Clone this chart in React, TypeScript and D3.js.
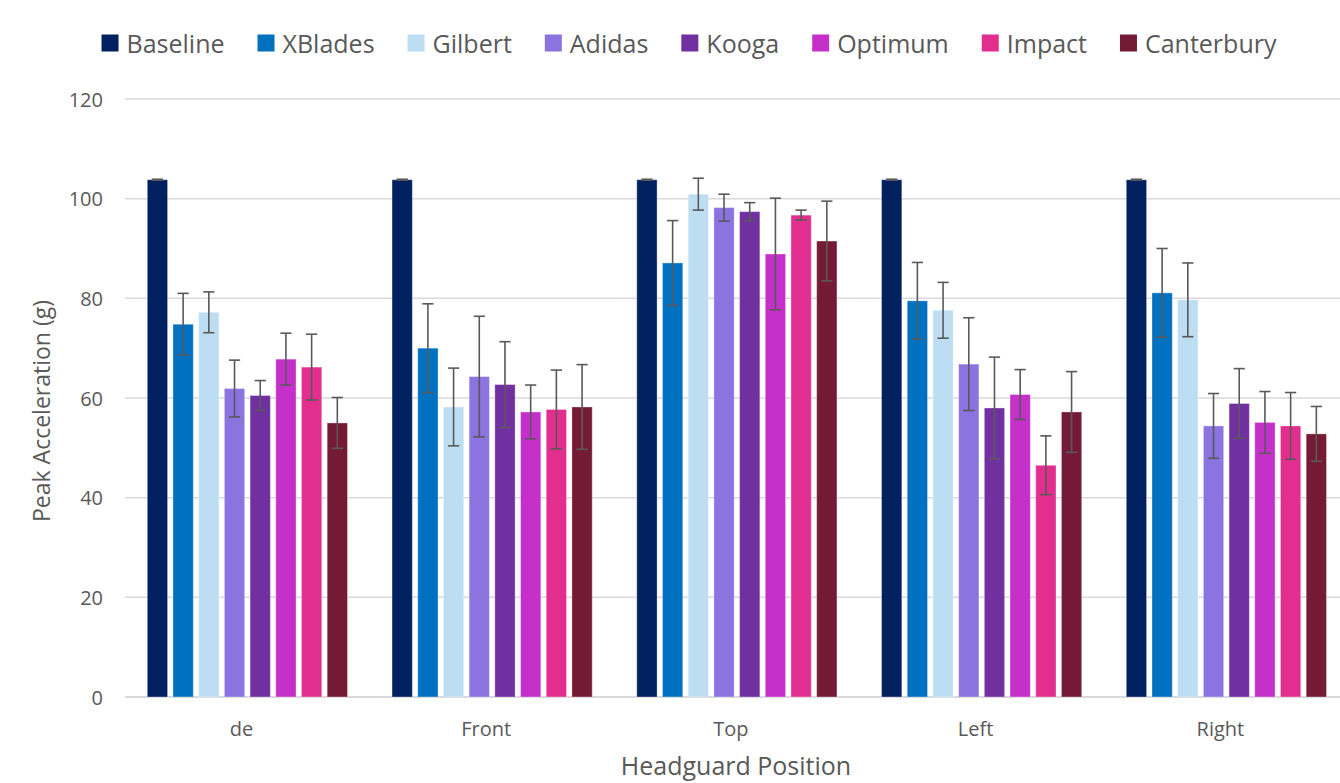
import React, { useMemo } from "react";
import * as d3 from "d3";

const categories = ["de", "Front", "Top", "Left", "Right"];
const seriesNames = ["Baseline", "XBlades", "Gilbert", "Adidas", "Kooga", "Optimum", "Impact", "Canterbury"];
const seriesColors = ["#002060", "#0070C0", "#BDDEF2", "#8B73E0", "#7030A0", "#C530CA", "#E22E8E", "#741A36"];

// values per series, in category order (de, Front, Top, Left, Right)
const baseline = [103.8, 103.8, 103.8, 103.8, 103.8];
const xblades = [74.8, 70.0, 87.1, 79.5, 81.1];
const gilbert = [77.2, 58.2, 100.9, 77.6, 79.7];
const adidas = [61.9, 64.3, 98.2, 66.8, 54.4];
const kooga = [60.5, 62.7, 97.4, 58.0, 58.9];
const optimum = [67.8, 57.2, 88.9, 60.7, 55.1];
const impact = [66.2, 57.7, 96.7, 46.5, 54.4];
const canterbury = [55.0, 58.2, 91.5, 57.2, 52.8];

// error (± half-range) per series
const baselineErr = [0.1, 0.1, 0.1, 0.1, 0.1];
const xbladesErr = [6.2, 8.9, 8.5, 7.7, 8.9];
const gilbertErr = [4.1, 7.8, 3.2, 5.6, 7.4];
const adidasErr = [5.7, 12.1, 2.7, 9.3, 6.5];
const koogaErr = [3.0, 8.6, 1.8, 10.2, 7.0];
const optimumErr = [5.2, 5.4, 11.2, 5.0, 6.2];
const impactErr = [6.6, 7.9, 1.0, 5.9, 6.7];
const canterburyErr = [5.1, 8.5, 8.0, 8.1, 5.5];

const yTicks = [0, 20, 40, 60, 80, 100, 120];

const seriesValues = [baseline, xblades, gilbert, adidas, kooga, optimum, impact, canterbury];
const seriesErrors = [baselineErr, xbladesErr, gilbertErr, adidasErr, koogaErr, optimumErr, impactErr, canterburyErr];

const W = 1340;
const H = 783;
const FONT = "'Open Sans', 'Noto Sans', sans-serif";
const TEXT = "#595959";
const GRID = "#D9D9D9";

export default function App() {
  const plotLeft = 125;
  const plotRight = 1348.75;
  const plotTop = 99;
  const plotBottom = 697;

  const x0 = d3.scaleBand<string>().domain(categories).range([plotLeft, plotRight]).padding(0);
  const x1 = d3
    .scaleBand<string>()
    .domain(seriesNames)
    .range([0, x0.bandwidth()])
    .paddingInner(0.21)
    .paddingOuter(0.867);
  const y = d3.scaleLinear().domain([0, 120]).range([plotBottom, plotTop]);

  const legendFontSize = 25;
  const legend = useMemo(() => {
    const canvas = document.createElement("canvas");
    const ctx = canvas.getContext("2d")!;
    ctx.font = `${legendFontSize}px 'Open Sans'`;
    const sq = 17;
    const gapSqText = 8;
    const gapItem = 33;
    const widths = seriesNames.map((n) => ctx.measureText(n).width);
    const itemWidths = widths.map((w) => sq + gapSqText + w);
    const total = d3.sum(itemWidths) + gapItem * (seriesNames.length - 1);
    let cx = 689 - total / 2;
    return seriesNames.map((n, i) => {
      const item = { name: n, x: cx, sq, textX: cx + sq + gapSqText, color: seriesColors[i] };
      cx += itemWidths[i] + gapItem;
      return item;
    });
  }, []);

  const legendY = 43;

  return (
    <svg
      width={W}
      height={H}
      style={{ position: "absolute", left: 0, top: 0, background: "#fff" }}
      fontFamily={FONT}
    >
      {/* gridlines */}
      {yTicks.map((t) => (
        <line
          key={t}
          x1={plotLeft}
          x2={plotRight}
          y1={y(t)}
          y2={y(t)}
          stroke={GRID}
          strokeWidth={t === 0 ? 2 : 1.5}
        />
      ))}
      {/* y tick labels */}
      {yTicks.map((t) => (
        <text
          key={"l" + t}
          x={103}
          y={y(t)}
          textAnchor="end"
          dominantBaseline="central"
          fontSize={20}
          fill={TEXT}
        >
          {t}
        </text>
      ))}
      {/* bars */}
      {categories.map((c, ci) => (
        <g key={c} transform={`translate(${x0(c)},0)`}>
          {seriesNames.map((s, si) => {
            const v = seriesValues[si][ci];
            const e = seriesErrors[si][ci];
            const bx = x1(s)!;
            const bw = x1.bandwidth();
            const cx = bx + bw / 2;
            return (
              <g key={s}>
                <rect
                  x={bx}
                  y={y(v)}
                  width={bw}
                  height={y(0) - y(v)}
                  fill={seriesColors[si]}
                  stroke="#ffffff"
                  strokeOpacity={0.35}
                  strokeWidth={1}
                />
                <g stroke="#595959" strokeWidth={1.6}>
                  <line x1={cx} x2={cx} y1={y(v + e)} y2={y(v - e)} />
                  <line x1={cx - 5.6} x2={cx + 5.6} y1={y(v + e)} y2={y(v + e)} />
                  <line x1={cx - 5.6} x2={cx + 5.6} y1={y(v - e)} y2={y(v - e)} />
                </g>
              </g>
            );
          })}
        </g>
      ))}
      {/* x tick labels */}
      {categories.map((c) => (
        <text
          key={"x" + c}
          x={x0(c)! + x0.bandwidth() / 2 - 6}
          y={728}
          textAnchor="middle"
          dominantBaseline="central"
          fontSize={20}
          fill={TEXT}
        >
          {c}
        </text>
      ))}
      {/* axis titles */}
      <text x={736} y={765} textAnchor="middle" dominantBaseline="central" fontSize={25} fill={TEXT}>
        Headguard Position
      </text>
      <text
        transform={`translate(41,411) rotate(-90)`}
        textAnchor="middle"
        dominantBaseline="central"
        fontSize={23}
        fill={TEXT}
      >
        Peak Acceleration (g)
      </text>
      {/* legend */}
      {legend.map((it) => (
        <g key={it.name}>
          <rect x={it.x} y={legendY - it.sq / 2} width={it.sq} height={it.sq} fill={it.color} />
          <text
            x={it.textX}
            y={legendY}
            dominantBaseline="central"
            fontSize={legendFontSize}
            fill={TEXT}
          >
            {it.name}
          </text>
        </g>
      ))}
    </svg>
  );
}
